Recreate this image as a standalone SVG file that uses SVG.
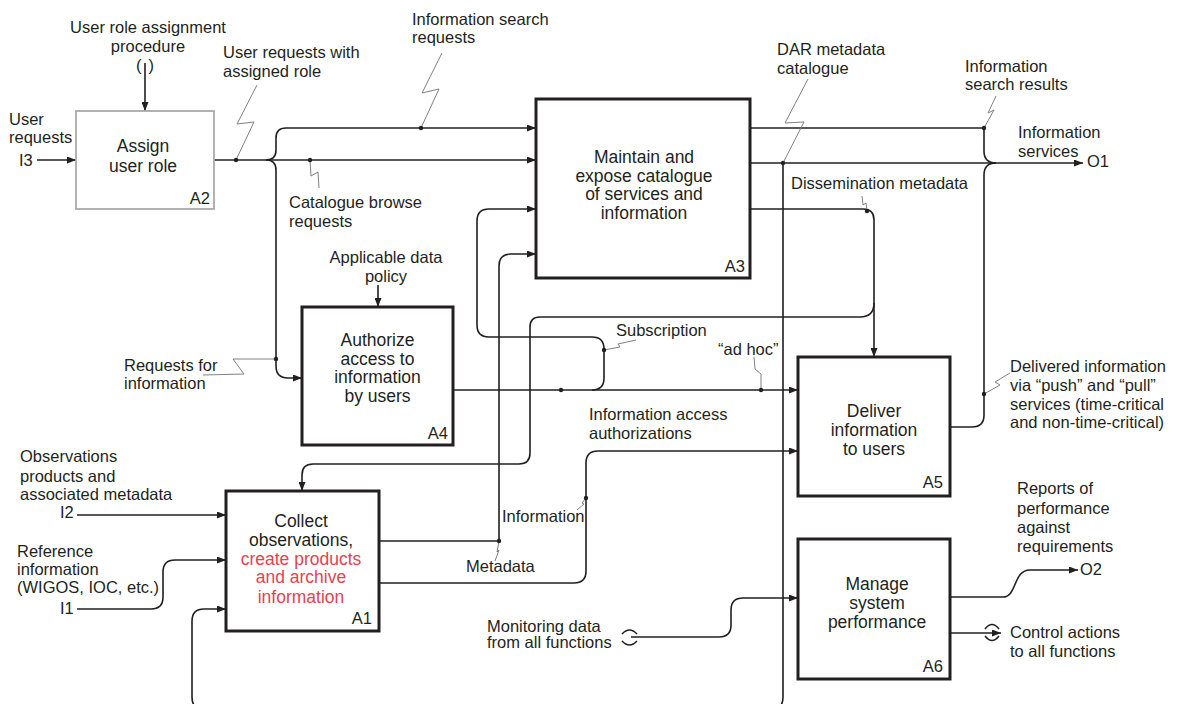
<svg xmlns="http://www.w3.org/2000/svg" width="1178" height="704" viewBox="0 0 1178 704">
<style>
text{font-family:"Liberation Sans",Arial,sans-serif;fill:#231f20}
.lb{font-size:16.5px}
.tt{font-size:17.5px;text-anchor:middle}
.id{font-size:16.5px;text-anchor:end}
.red{fill:#e8414f}
.box{fill:#fff;stroke:#231f20;stroke-width:3}
.c{fill:none;stroke:#231f20;stroke-width:1.6}
.a{marker-end:url(#ah)}
.z{fill:none;stroke:#808080;stroke-width:1}
.d{fill:#231f20}
</style>
<defs>
<marker id="ah" markerUnits="userSpaceOnUse" markerWidth="9" markerHeight="7" refX="9" refY="3.5" orient="auto">
<path d="M0,0 L9,3.5 L0,7 z" fill="#231f20"/>
</marker>
</defs>
<rect width="1178" height="704" fill="#fff"/>

<g id="connectors">
<path class="c a" d="M37,160 H76"/>
<path class="c a" d="M145,63 V111"/>
<path class="c a" d="M214,160 H536"/>
<path class="c a" d="M266,160 Q276,160 276,150 V138 Q276,128 286,128 H536"/>
<path class="c a" d="M266,160 Q276,160 276,170 V366 Q276,378 288,378 H302"/>
<path class="c" d="M750,128 H984 V151 Q984,163 996,163"/>
<path class="c a" d="M750,163 H1083"/>
<path class="c" d="M950,427 H972 Q984,427 984,415 V175 Q984,163 996,163"/>
<path class="c a" d="M750,209 H863 Q874,209 874,220 V357"/>
<path class="c a" d="M874,303 Q874,317 860,317 H540 Q530,317 530,327 V453 Q530,464 519,464 H313 Q302,464 302,475 V491"/>
<path class="c a" d="M783,163 V697 Q783,710 770,710 H205 Q192,710 192,697 V621 Q192,609 204,609 H226"/>
<path class="c a" d="M453,390 H798"/>
<path class="c a" d="M592,390 Q604,390 604,378 V349 Q604,337 592,337 H489 Q477,337 477,325 V221 Q477,209 489,209 H536"/>
<path class="c a" d="M379,541 H499 V266 Q499,254 511,254 H536"/>
<path class="c a" d="M379,583 H574 Q586,583 586,571 V463 Q586,451 598,451 H798"/>
<path class="c a" d="M77,515 H226"/>
<path class="c a" d="M77,609 H151 Q163,609 163,597 V572 Q163,560 175,560 H226"/>
<path class="c a" d="M378,285 V307"/>
<path class="c a" d="M631,637 H719 Q731,637 731,625 V610 Q731,598 743,598 H798"/>
<path class="c" d="M622,634 Q629.5,626 637,634 M622,641 Q629.5,649 637,641"/>
<path class="c a" d="M950,597 H1003 C1017,597 1013,570 1030,570 H1078"/>
<path class="c a" d="M950,633 H1001"/>
<path class="c" d="M985,629 Q992,620 999,629 M985,636 Q992,645 999,636"/>
<path class="z" d="M236,160 L254,122 L237,124 L257,85"/>
<path class="z" d="M421,128 L439,89 L422,93 L442,53"/>
<path class="z" d="M310,160 L311,176 L318,172 L319,188"/>
<path class="z" d="M276,359 L233,359 L244,374 L203,375"/>
<path class="z" d="M783,163 L804,122 L785,123 L808,79"/>
<path class="z" d="M984,128 L994,110 L988,113 L996,96"/>
<path class="z" d="M867,211 L866,203 L863,205 L862,196"/>
<path class="z" d="M604,350 L620,347 L618,344 L636,340"/>
<path class="z" d="M761,390 L761,374 L755,369 L754,357"/>
<path class="z" d="M984,394 L1000,385 L995,382 L1010,373"/>
<path class="z" d="M499,541 L497,552 L499,550 L495,561"/>
<path class="z" d="M586,498 L582,503 L584,504 L577,510"/>
<circle class="d" cx="236" cy="160" r="2.2"/>
<circle class="d" cx="310" cy="160" r="2.2"/>
<circle class="d" cx="421" cy="128" r="2.2"/>
<circle class="d" cx="276" cy="359" r="2.2"/>
<circle class="d" cx="984" cy="128" r="2.2"/>
<circle class="d" cx="783" cy="163" r="2.2"/>
<circle class="d" cx="984" cy="394" r="2.2"/>
<circle class="d" cx="867" cy="211" r="2.2"/>
<circle class="d" cx="561" cy="390" r="2.2"/>
<circle class="d" cx="761" cy="390" r="2.2"/>
<circle class="d" cx="604" cy="350" r="2.2"/>
<circle class="d" cx="499" cy="541" r="2.2"/>
<circle class="d" cx="586" cy="498" r="2.2"/>
</g>

<g id="A2">
<rect x="76" y="111" width="138" height="98" fill="#fff" stroke="#aaa" stroke-width="1.8"/>
<text class="tt" x="143" y="152">Assign</text>
<text class="tt" x="143" y="172">user role</text>
<text class="id" x="210" y="204">A2</text>
</g>
<g id="A3">
<rect class="box" x="536" y="99" width="214" height="179"/>
<text class="tt" x="644" y="163">Maintain and</text>
<text class="tt" x="644" y="181.5">expose catalogue</text>
<text class="tt" x="644" y="200">of services and</text>
<text class="tt" x="644" y="218.5">information</text>
<text class="id" x="745" y="272">A3</text>
</g>
<g id="A4">
<rect class="box" x="302" y="307" width="151" height="138"/>
<text class="tt" x="377.5" y="346">Authorize</text>
<text class="tt" x="377.5" y="364.5">access to</text>
<text class="tt" x="377.5" y="383">information</text>
<text class="tt" x="377.5" y="401.5">by users</text>
<text class="id" x="448" y="439">A4</text>
</g>
<g id="A5">
<rect class="box" x="798" y="357" width="152" height="139"/>
<text class="tt" x="874" y="417">Deliver</text>
<text class="tt" x="874" y="436">information</text>
<text class="tt" x="874" y="455">to users</text>
<text class="id" x="943" y="488">A5</text>
</g>
<g id="A6">
<rect class="box" x="798" y="539" width="152" height="140"/>
<text class="tt" x="877" y="590">Manage</text>
<text class="tt" x="877" y="609">system</text>
<text class="tt" x="877" y="628">performance</text>
<text class="id" x="943" y="672">A6</text>
</g>
<g id="A1">
<rect class="box" x="226" y="491" width="153" height="140"/>
<text class="tt" x="301" y="527">Collect</text>
<text class="tt" x="301" y="546">observations,</text>
<text class="tt red" x="301" y="564.5">create products</text>
<text class="tt red" x="301" y="583">and archive</text>
<text class="tt red" x="301" y="602.5">information</text>
<text class="id" x="372" y="624">A1</text>
</g>

<g id="labels" class="lb">
<text x="148" y="33" text-anchor="middle">User role assignment</text>
<text x="148" y="52" text-anchor="middle">procedure</text>
<text x="141.5" y="71" text-anchor="end">(</text>
<text x="148.5" y="71">)</text>
<text x="223" y="58">User requests with</text>
<text x="223" y="77">assigned role</text>
<text x="9" y="125">User</text>
<text x="9" y="143">requests</text>
<text x="19" y="166">I3</text>
<text x="412" y="25">Information search</text>
<text x="412" y="43">requests</text>
<text x="777" y="55">DAR metadata</text>
<text x="777" y="74">catalogue</text>
<text x="965" y="72">Information</text>
<text x="965" y="90">search results</text>
<text x="1018" y="138">Information</text>
<text x="1018" y="157">services</text>
<text x="1087" y="167">O1</text>
<text x="791" y="189">Dissemination metadata</text>
<text x="289" y="208">Catalogue browse</text>
<text x="289" y="227">requests</text>
<text x="386" y="263" text-anchor="middle">Applicable data</text>
<text x="386" y="282" text-anchor="middle">policy</text>
<text x="124" y="371">Requests for</text>
<text x="124" y="389">information</text>
<text x="616" y="336">Subscription</text>
<text x="718" y="355">“ad hoc”</text>
<text x="1010" y="372">Delivered information</text>
<text x="1010" y="391">via “push” and “pull”</text>
<text x="1010" y="410">services (time-critical</text>
<text x="1010" y="428">and non-time-critical)</text>
<text x="589" y="420">Information access</text>
<text x="589" y="439">authorizations</text>
<text x="20" y="462">Observations</text>
<text x="20" y="482">products and</text>
<text x="20" y="500">associated metadata</text>
<text x="60" y="518">I2</text>
<text x="17" y="557">Reference</text>
<text x="17" y="575">information</text>
<text x="17" y="593">(WIGOS, IOC, etc.)</text>
<text x="60" y="614">I1</text>
<text x="502" y="522">Information</text>
<text x="466" y="572">Metadata</text>
<text x="487" y="632">Monitoring data</text>
<text x="487" y="648">from all functions</text>
<text x="1017" y="494">Reports of</text>
<text x="1017" y="514">performance</text>
<text x="1017" y="533">against</text>
<text x="1017" y="552">requirements</text>
<text x="1080" y="575">O2</text>
<text x="1010" y="638">Control actions</text>
<text x="1010" y="657">to all functions</text>
</g>
</svg>
